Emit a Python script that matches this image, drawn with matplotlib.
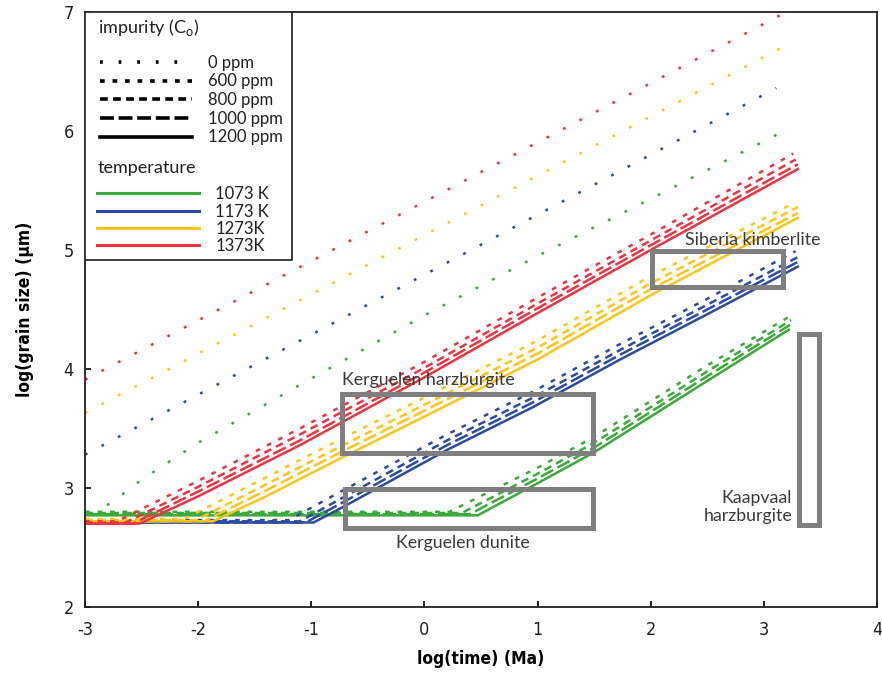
import matplotlib.pyplot as plt
from matplotlib.lines import Line2D
from matplotlib.patches import Rectangle

plt.rcParams['font.family'] = ['Lato', 'DejaVu Sans']
plt.rcParams['mathtext.fontset'] = 'custom'
plt.rcParams['mathtext.rm'] = 'Lato'
plt.rcParams['lines.scale_dashes'] = False
plt.rcParams['axes.unicode_minus'] = False

# --- data: (log time [Ma], log grain size [um]) ---
# 1373 K
red_0 = ([-3, 3.14], [3.91, 6.97])
red_600 = ([-3, -2.72, -2.0, -1.1, 0, 1, 2, 3.26], [2.72, 2.72, 3.06, 3.50, 4.06, 4.60, 5.13, 5.81])
red_800 = ([-3, -2.64, -2.0, -1.1, 0, 1, 2, 3.28], [2.71, 2.71, 3.01, 3.45, 4.01, 4.55, 5.08, 5.76])
red_1000 = ([-3, -2.58, -2.0, -1.1, 0, 1, 2, 3.3], [2.70, 2.70, 2.97, 3.40, 3.97, 4.51, 5.04, 5.72])
red_1200 = ([-3, -2.52, -2.0, -1.1, 0, 1, 2, 3.3], [2.70, 2.70, 2.93, 3.36, 3.93, 4.47, 5.00, 5.68])

# 1273 K
yel_0 = ([-3, 3.2], [3.63, 6.72])
yel_600 = ([-3, -2.12, -1.4, -0.72, 0, 1, 2, 3.28], [2.74, 2.74, 3.09, 3.42, 3.76, 4.24, 4.78, 5.40])
yel_800 = ([-3, -2.02, -1.4, -0.72, 0, 1, 2, 3.3], [2.73, 2.73, 3.03, 3.36, 3.70, 4.18, 4.72, 5.36])
yel_1000 = ([-3, -1.95, -1.4, -0.72, 0, 1, 2, 3.3], [2.72, 2.72, 2.98, 3.31, 3.65, 4.13, 4.67, 5.31])
yel_1200 = ([-3, -1.87, -1.4, -0.72, 0, 1, 2, 3.3], [2.72, 2.72, 2.93, 3.26, 3.60, 4.08, 4.62, 5.27])

# 1173 K
blu_0 = ([-3, 3.11], [3.28, 6.36])
blu_600 = ([-3, -1.2, -0.72, 0.2, 0.96, 1.73, 2.5, 3.28], [2.73, 2.73, 2.98, 3.45, 3.81, 4.21, 4.59, 4.99])
blu_800 = ([-3, -1.1, -0.72, 0.2, 0.96, 1.73, 2.5, 3.3], [2.72, 2.72, 2.92, 3.40, 3.76, 4.16, 4.54, 4.94])
blu_1000 = ([-3, -1.05, -0.72, 0.2, 0.96, 1.73, 2.5, 3.3], [2.71, 2.71, 2.88, 3.36, 3.72, 4.12, 4.50, 4.90])
blu_1200 = ([-3, -0.98, -0.72, 0.2, 0.96, 1.73, 2.5, 3.3], [2.71, 2.71, 2.84, 3.32, 3.68, 4.08, 4.46, 4.86])

# 1073 K
grn_0 = ([-2.95, -2.76, -2.5, -2.0, -1.0, 0, 1, 2, 3.2], [2.78, 2.88, 3.07, 3.38, 3.92, 4.45, 4.95, 5.43, 6.01])
grn_600 = ([-3, 0.22, 1.0, 1.5, 2.0, 2.5, 3.26], [2.80, 2.80, 3.17, 3.43, 3.73, 4.03, 4.46])
grn_800 = ([-3, 0.33, 1.0, 1.5, 2.0, 2.5, 3.24], [2.79, 2.79, 3.12, 3.38, 3.68, 3.98, 4.41])
grn_1000 = ([-3, 0.40, 1.0, 1.5, 2.0, 2.5, 3.23], [2.78, 2.78, 3.08, 3.34, 3.64, 3.94, 4.37])
grn_1200 = ([-3, 0.47, 1.0, 1.5, 2.0, 2.5, 3.22], [2.77, 2.77, 3.04, 3.30, 3.60, 3.90, 4.33])

temps = ['1073 K', '1173 K', '1273K', '1373K']
impurities = ['0 ppm', '600 ppm', '800 ppm', '1000 ppm', '1200 ppm']
series = {
    '1073 K': [grn_0, grn_600, grn_800, grn_1000, grn_1200],
    '1173 K': [blu_0, blu_600, blu_800, blu_1000, blu_1200],
    '1273K': [yel_0, yel_600, yel_800, yel_1000, yel_1200],
    '1373K': [red_0, red_600, red_800, red_1000, red_1200],
}

# sample regions (boxes)
box_names = ['Kerguelen harzburgite', 'Kerguelen dunite', 'Siberia kimberlite', 'Kaapvaal\nharzburgite']
box_x0 = [-0.73, -0.70, 2.01, 3.31]
box_x1 = [1.49, 1.49, 3.17, 3.49]
box_y0 = [3.29, 2.66, 4.69, 2.69]
box_y1 = [3.79, 2.99, 4.99, 4.29]

colors = {'1073 K': '#3aaa3a', '1173 K': '#2b4aa6', '1273K': '#fdc51a', '1373K': '#ec3340'}
styles = {'0 ppm': (0, (2.0, 11.4)), '600 ppm': (0, (3.4, 5.6)), '800 ppm': (0, (5.6, 3.8)),
          '1000 ppm': (0, (10, 3.4)), '1200 ppm': '-'}

fig = plt.figure(figsize=(8.82, 6.77), dpi=100)
ax = fig.add_axes([0.0964, 0.1034, 0.898, 0.879])

for t in temps:
    # solid first, dashed on top
    for imp, s in reversed(list(zip(impurities, series[t]))):
        ax.plot(s[0], s[1], color=colors[t], lw=1.8, linestyle=styles[imp],
                solid_joinstyle='round')

label_pos = {'Kerguelen harzburgite': (-0.73, 3.91, 'left'),
             'Kerguelen dunite': (0.34, 2.54, 'center'),
             'Siberia kimberlite': (2.90, 5.08, 'center'),
             'Kaapvaal\nharzburgite': (3.25, 2.84, 'right')}
for name, x0, x1, y0, y1 in zip(box_names, box_x0, box_x1, box_y0, box_y1):
    ax.add_patch(Rectangle((x0, y0), x1 - x0, y1 - y0, fill=False, ec='#7f7f7f', lw=3.6, zorder=3))
    lx, ly, ha = label_pos[name]
    ax.text(lx, ly, name, ha=ha, va='center', multialignment='right', fontsize=12.8,
            color='#3a3a3a', zorder=4)

ax.set_xlim(-3, 4)
ax.set_ylim(2, 7)
ax.set_xticks(range(-3, 5))
ax.set_yticks(range(2, 8))
ax.tick_params(direction='in', length=4, width=1.2, labelsize=13, labelcolor='#231f20')
ax.tick_params(axis='x', pad=10)
ax.tick_params(axis='y', pad=8)
for lab in ax.get_xticklabels() + ax.get_yticklabels():
    lab.set_family('DejaVu Sans')
    lab.set_stretch('condensed')
for sp in ax.spines.values():
    sp.set_linewidth(1.3)
    sp.set_color('#231f20')
ax.set_xlabel('log(time) (Ma)', family='DejaVu Sans', stretch='condensed', fontweight='bold',
              fontsize=12.5, labelpad=8)
ax.set_ylabel('log(grain size) (µm)', family='DejaVu Sans', stretch='condensed', fontweight='bold',
              fontsize=12.5, labelpad=21)

# legend frame + two stacked legends
ax.add_patch(Rectangle((0, 0.583), 0.261, 0.417, transform=ax.transAxes, fc='white',
                       ec='#231f20', lw=1.2, zorder=4))
ax.text(0.0164, 0.973, r'impurity (C$_\mathregular{o}$)', transform=ax.transAxes,
        fontsize=13, va='center', ha='left', color='#231f20', zorder=6)
ax.text(0.0164, 0.738, 'temperature', transform=ax.transAxes,
        fontsize=13, va='center', ha='left', color='#231f20', zorder=6)
imp_handles = [Line2D([], [], color='black', lw=2.6, linestyle=styles[i]) for i in impurities]
leg1 = ax.legend(imp_handles, impurities, loc='upper left', bbox_to_anchor=(0.019, 0.928),
                 frameon=False, borderpad=0, borderaxespad=0, handlelength=5.5,
                 handletextpad=0.95, labelspacing=0.16, fontsize=12, labelcolor='#231f20')
ax.add_artist(leg1)
tmp_handles = [Line2D([], [], color=colors[t], lw=2.2) for t in temps]
leg2 = ax.legend(tmp_handles, temps, loc='upper left', bbox_to_anchor=(0.015, 0.707),
                 frameon=False, borderpad=0, borderaxespad=0, handlelength=6.1,
                 handletextpad=1.0, labelspacing=0.08, fontsize=12, labelcolor='#231f20')

fig.savefig('out.png', dpi=100)
